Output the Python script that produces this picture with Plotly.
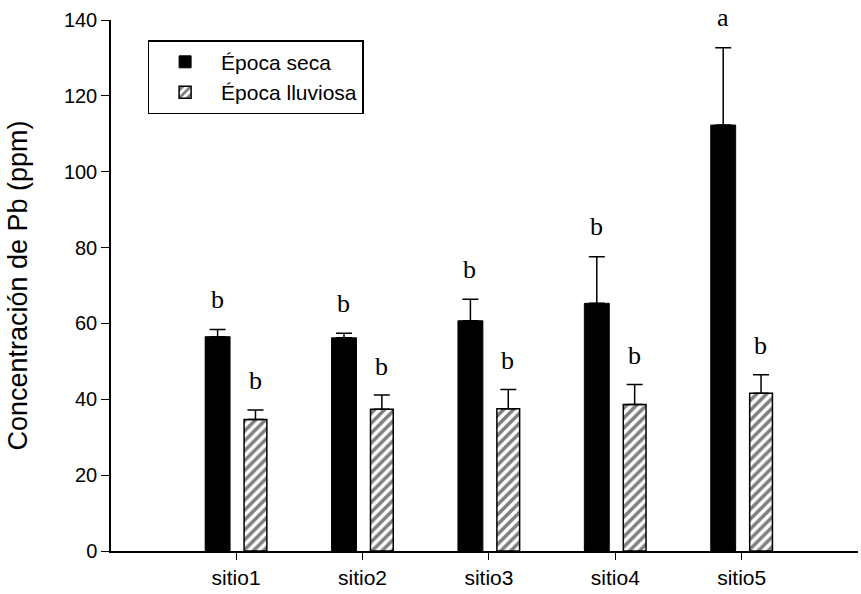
import plotly.graph_objects as go

sites = ["sitio1", "sitio2", "sitio3", "sitio4", "sitio5"]
seca = [56.5, 56.2, 60.7, 65.3, 112.3]
seca_err = [1.9, 1.2, 5.7, 12.3, 20.4]
lluviosa = [34.7, 37.4, 37.5, 38.6, 41.6]
lluviosa_err = [2.5, 3.7, 5.1, 5.3, 4.9]
seca_letters = ["b", "b", "b", "b", "a"]
lluviosa_letters = ["b", "b", "b", "b", "b"]

fig = go.Figure()
fig.add_trace(go.Bar(
    x=sites, y=seca, name="Época seca",
    width=0.197, offset=-0.245,
    marker=dict(color="black", line=dict(color="black", width=1)),
    error_y=dict(type="data", symmetric=False, array=seca_err,
                 arrayminus=[0] * len(seca), color="black", thickness=1.5, width=8),
))
fig.add_trace(go.Bar(
    x=sites, y=lluviosa, name="Época lluviosa",
    width=0.18, offset=0.063,
    marker=dict(color="white", line=dict(color="black", width=1.5),
                pattern=dict(shape="/", fgcolor="black", bgcolor="white",
                             size=7, solidity=0.5)),
    error_y=dict(type="data", symmetric=False, array=lluviosa_err,
                 arrayminus=[0] * len(lluviosa), color="black", thickness=1.5, width=8),
))

for i, s in enumerate(sites):
    fig.add_annotation(x=s, y=seca[i] + seca_err[i], text=seca_letters[i],
                       showarrow=False, yshift=30, xshift=-19,
                       font=dict(family="Liberation Serif", size=26, color="black"))
    fig.add_annotation(x=s, y=lluviosa[i] + lluviosa_err[i], text=lluviosa_letters[i],
                       showarrow=False, yshift=29, xshift=19,
                       font=dict(family="Liberation Serif", size=26, color="black"))

fig.update_layout(
    width=861, height=594,
    margin=dict(l=111, r=3, t=20, b=43),
    paper_bgcolor="white", plot_bgcolor="white",
    barmode="overlay",
    font=dict(family="Liberation Sans, Arial", size=20, color="black"),
    showlegend=True,
    legend=dict(x=0.049, y=0.962, xanchor="left", yanchor="top",
                bordercolor="black", borderwidth=1.5, bgcolor="white",
                font=dict(size=21), tracegroupgap=0, itemwidth=62,
                traceorder="normal"),
)
fig.update_xaxes(
    range=[-0.99, 4.92], showline=True, linecolor="black", linewidth=1.5,
    ticks="outside", ticklen=7, tickcolor="black", tickwidth=1,
    showgrid=False, zeroline=False, tickfont=dict(size=21), automargin=False,
)
fig.update_yaxes(
    range=[0, 140], dtick=20, showline=True, linecolor="black", linewidth=1.5,
    ticks="outside", ticklen=8, tickcolor="black", tickwidth=1,
    showgrid=False, zeroline=False, tickfont=dict(size=20), automargin=False,
    title=dict(text="Concentración de Pb (ppm)", font=dict(size=27), standoff=28),
)

fig.write_html("out.html", config={"displayModeBar": False},
               post_script="document.body.style.margin='0';document.body.style.overflow='hidden';")
